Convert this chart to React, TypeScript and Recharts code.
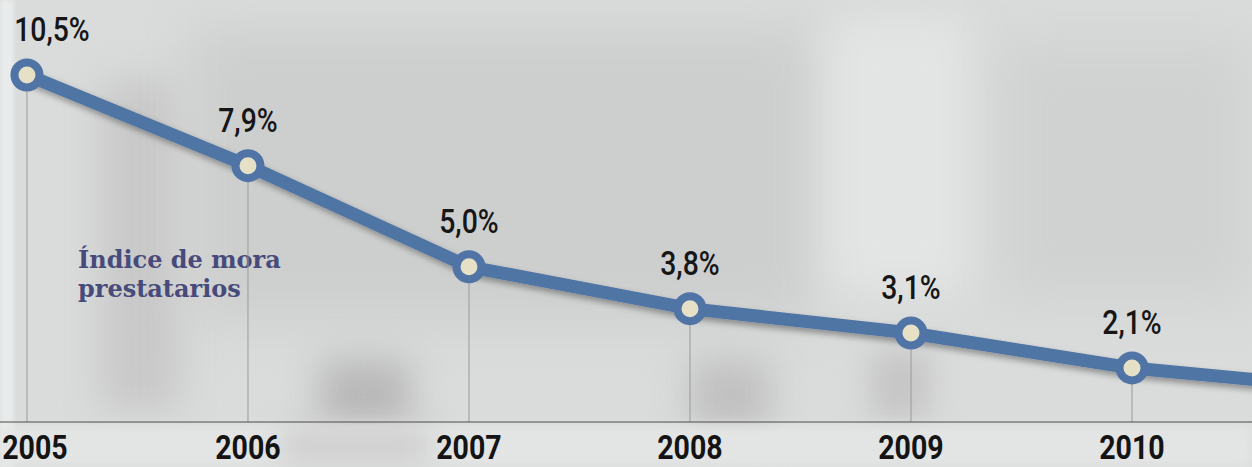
import React from 'react';
import { LineChart, Line, XAxis, YAxis, ReferenceLine, LabelList } from 'recharts';

// Años y tasa de morosidad (%). 2011 solo se ve como el tramo que sale por la derecha.
const years = [2005, 2006, 2007, 2008, 2009, 2010, 2011];
const mora = [10.5, 7.9, 5.0, 3.8, 3.1, 2.1, 1.5];
const tickYears = [2005, 2006, 2007, 2008, 2009, 2010];
const seriesName = ['Índice de mora', 'prestatarios'];

const data = years.map((year, i) => ({ year, mora: mora[i] }));

const LINE_BLUE = '#4f74a5';
const fmt = (v: number) => v.toFixed(1).replace('.', ',') + '%';

const YearTick = (props: any) => {
  const { x, y, payload, index } = props;
  const dx = index === 0 ? 8 : 0;
  return (
    <text
      transform={`translate(${x + dx},${y + 29}) scale(0.84,1)`}
      textAnchor="middle"
      fontFamily="Roboto"
      fontWeight={700}
      fontSize={34}
      fill="#141414"
    >
      {payload.value}
    </text>
  );
};

const ValueLabel = (props: any) => {
  const { x, y, value, index } = props;
  if (index >= tickYears.length) return null;
  const dx = index === 0 ? 25 : 0;
  return (
    <text
      transform={`translate(${x + dx},${y - 34}) scale(0.86,1)`}
      textAnchor="middle"
      fontFamily="Roboto"
      fontWeight={500}
      fontSize={33}
      fill="#161616"
    >
      {fmt(value)}
    </text>
  );
};

const RingDot = (props: any) => {
  const { cx, cy, index } = props;
  if (cx == null || cy == null) return null;
  return (
    <circle key={index} cx={cx} cy={cy} r={12.5} fill="#e6e1c6" stroke={LINE_BLUE} strokeWidth={8} />
  );
};

const blobs = [
  { l: 0, t: 0, w: 14, h: 467, c: '#e9ecec', b: 2 },
  { l: 100, t: 80, w: 80, h: 330, c: '#c9c9c9', b: 18 },
  { l: 190, t: 30, w: 620, h: 290, c: '#cdcece', b: 25 },
  { l: 830, t: 20, w: 140, h: 270, c: '#e3e5e5', b: 20 },
  { l: 1000, t: 40, w: 250, h: 260, c: '#d0d2d2', b: 25 },
  { l: 320, t: 360, w: 90, h: 70, c: '#b8b8b8', b: 18 },
  { l: 690, t: 360, w: 80, h: 70, c: '#c0c0c0', b: 18 },
  { l: 870, t: 350, w: 60, h: 70, c: '#c6c6c6', b: 15 },
  { l: 0, t: 425, w: 1252, h: 42, c: '#e3e5e4', b: 6 },
  { l: 280, t: 425, w: 150, h: 42, c: '#d0d0d0', b: 14 },
];

export default function App() {
  return (
    <div
      style={{
        position: 'fixed',
        left: 0,
        top: 0,
        width: 1252,
        height: 467,
        overflow: 'hidden',
        background: '#dadbdb',
      }}
    >
      {blobs.map((b, i) => (
        <div
          key={i}
          style={{
            position: 'absolute',
            left: b.l,
            top: b.t,
            width: b.w,
            height: b.h,
            background: b.c,
            filter: `blur(${b.b}px)`,
          }}
        />
      ))}
      <div
        style={{
          position: 'absolute',
          left: 78,
          top: 245,
          fontFamily: '"DejaVu Serif"',
          fontWeight: 700,
          fontSize: 24,
          lineHeight: '29px',
          color: '#474b7b',
          whiteSpace: 'nowrap',
        }}
      >
        {seriesName[0]}
        <br />
        {seriesName[1]}
      </div>
      <div style={{ position: 'absolute', left: 0, top: 0 }}>
        <LineChart width={1252} height={467} data={data} margin={{ top: 0, right: 0, bottom: 0, left: 0 }}>
          <defs>
            <filter id="lineShadow" x="-5%" y="-20%" width="110%" height="140%">
              <feDropShadow dx="3" dy="4" stdDeviation="3" floodColor="#000" floodOpacity="0.35" />
            </filter>
          </defs>
          <XAxis
            dataKey="year"
            type="number"
            domain={[2004.878, 2010.543]}
            allowDataOverflow
            ticks={tickYears}
            height={45}
            axisLine={{ stroke: '#4a4a4a', strokeWidth: 1 }}
            tickLine={false}
            tick={<YearTick />}
            interval={0}
          />
          <YAxis hide domain={[0.55, 12.65]} allowDataOverflow />
          {tickYears.map((yr, i) => (
            <ReferenceLine
              key={yr}
              segment={[
                { x: yr, y: 0.55 },
                { x: yr, y: mora[i] },
              ]}
              stroke="#9a9b9b"
              strokeWidth={1}
            />
          ))}
          <Line
            type="linear"
            dataKey="mora"
            stroke={LINE_BLUE}
            strokeWidth={13}
            filter="url(#lineShadow)"
            dot={<RingDot />}
            activeDot={false}
            isAnimationActive={false}
          >
            <LabelList dataKey="mora" content={<ValueLabel />} />
          </Line>
        </LineChart>
      </div>
    </div>
  );
}
